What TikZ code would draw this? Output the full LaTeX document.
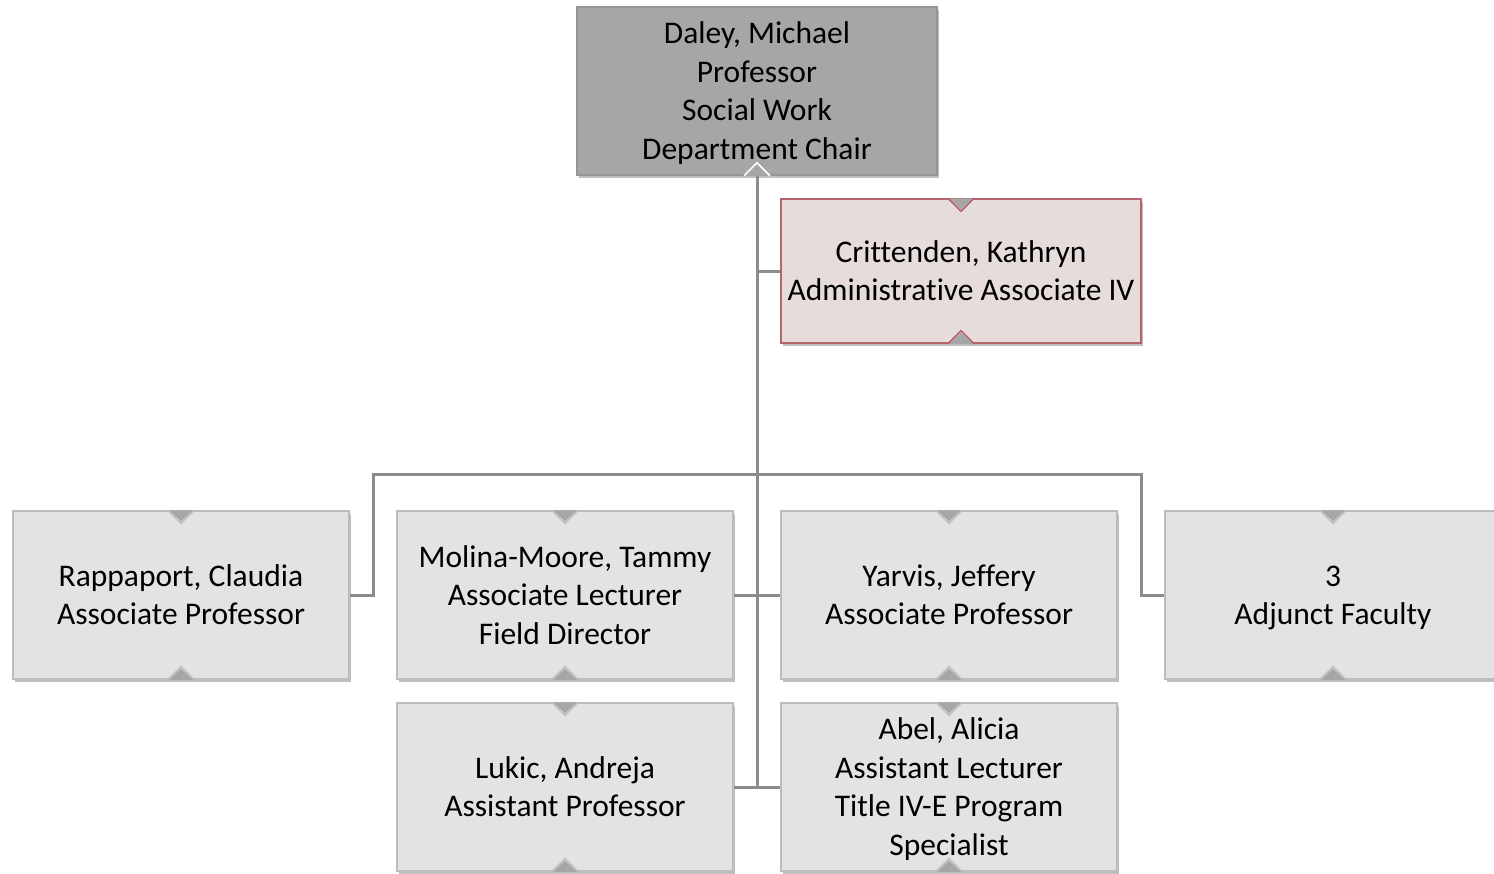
\documentclass[tikz,border=0pt]{standalone}
\usepackage{fontspec}
\setmainfont{Carlito}[Ligatures={NoCommon}]
\usetikzlibrary{shadows}
\definecolor{linec}{HTML}{8C8C8C}
\definecolor{boxfill}{HTML}{E3E3E3}
\definecolor{boxdraw}{HTML}{BDBDBD}
\definecolor{topfill}{HTML}{A6A6A6}
\definecolor{topdraw}{HTML}{959595}
\definecolor{admfill}{HTML}{E6DCDC}
\definecolor{admdraw}{HTML}{B5646B}
\definecolor{notchc}{HTML}{A6A6A6}
\newcommand{\tstrut}{\rule{0pt}{33pt}}
\newcommand{\topnotch}[2]{%
  \fill[notchc] ([xshift=-12pt]#1.north) -- ([xshift=12pt]#1.north) -- ([yshift=-11pt]#1.north) -- cycle;
  \draw[#2,line width=1.5pt] ([xshift=-13pt]#1.north) -- ([yshift=-13pt]#1.north) -- ([xshift=13pt]#1.north);
}
\newcommand{\bottomnotch}[2]{%
  \fill[notchc] ([xshift=-12pt]#1.south) -- ([xshift=12pt]#1.south) -- ([yshift=11pt]#1.south) -- cycle;
  \draw[#2,line width=1.5pt] ([xshift=-13pt]#1.south) -- ([yshift=13pt]#1.south) -- ([xshift=13pt]#1.south);
}
\newcommand{\boxnotches}[2]{\topnotch{#1}{#2}\bottomnotch{#1}{#2}}
\tikzset{
  conn/.style={draw=linec,line width=3pt},
  person/.style={rectangle,draw=boxdraw,fill=boxfill,line width=1.5pt,
    minimum width=336pt,minimum height=168pt,inner sep=0pt,align=center,
    font=\fontsize{31.5}{38.5}\selectfont,
    drop shadow={shadow xshift=2pt,shadow yshift=-3pt,opacity=0.25,fill=black}},
  chief/.style={person,fill=topfill,draw=topdraw,minimum width=360pt},
  admin/.style={person,fill=admfill,draw=admdraw,minimum width=360pt,minimum height=144pt},
}
\begin{document}
\begin{tikzpicture}[x=1pt,y=-1pt]
\useasboundingbox (0,0) rectangle (1494,873);
% coordinates for connector junctions
\coordinate (trunkend) at (757,787);
\coordinate (barL) at (373,474);
\coordinate (barR) at (1141,474);
% nodes
\node[chief] (daley) at (757,91) {\tstrut Daley, Michael\\Professor\\Social Work\\Department Chair\strut};
\node[admin] (crit) at (961,271) {\tstrut Crittenden, Kathryn\\Administrative Associate IV\strut};
\node[person] (rapp) at (181,595) {\tstrut Rappaport, Claudia\\Associate Professor\strut};
\node[person] (mol) at (565,595) {\tstrut Molina-Moore, Tammy\\Associate Lecturer\\Field Director\strut};
\node[person] (yar) at (949,595) {\tstrut Yarvis, Jeffery\\Associate Professor\strut};
\node[person] (adj) at (1333,595) {\tstrut 3\\Adjunct Faculty\strut};
\node[person] (luk) at (565,787) {\tstrut Lukic, Andreja\\Assistant Professor\strut};
\node[person] (abel) at (949,787) {\tstrut Abel, Alicia\\Assistant Lecturer\\Title IV-E Program\\Specialist\strut};
% connectors
\draw[conn] (daley.south) -- (trunkend);
\draw[conn] (daley.south |- crit.west) -- (crit.west);
\draw[conn] (rapp.east) -| (barL) -- (barR) |- (adj.west);
\draw[conn] (mol.east) -- (yar.west);
\draw[conn] (luk.east) -- (abel.west);
% notches
\bottomnotch{daley}{white}
\boxnotches{crit}{admdraw}
\boxnotches{rapp}{boxdraw}
\boxnotches{mol}{boxdraw}
\boxnotches{yar}{boxdraw}
\boxnotches{adj}{boxdraw}
\boxnotches{luk}{boxdraw}
\boxnotches{abel}{boxdraw}
\end{tikzpicture}
\end{document}
